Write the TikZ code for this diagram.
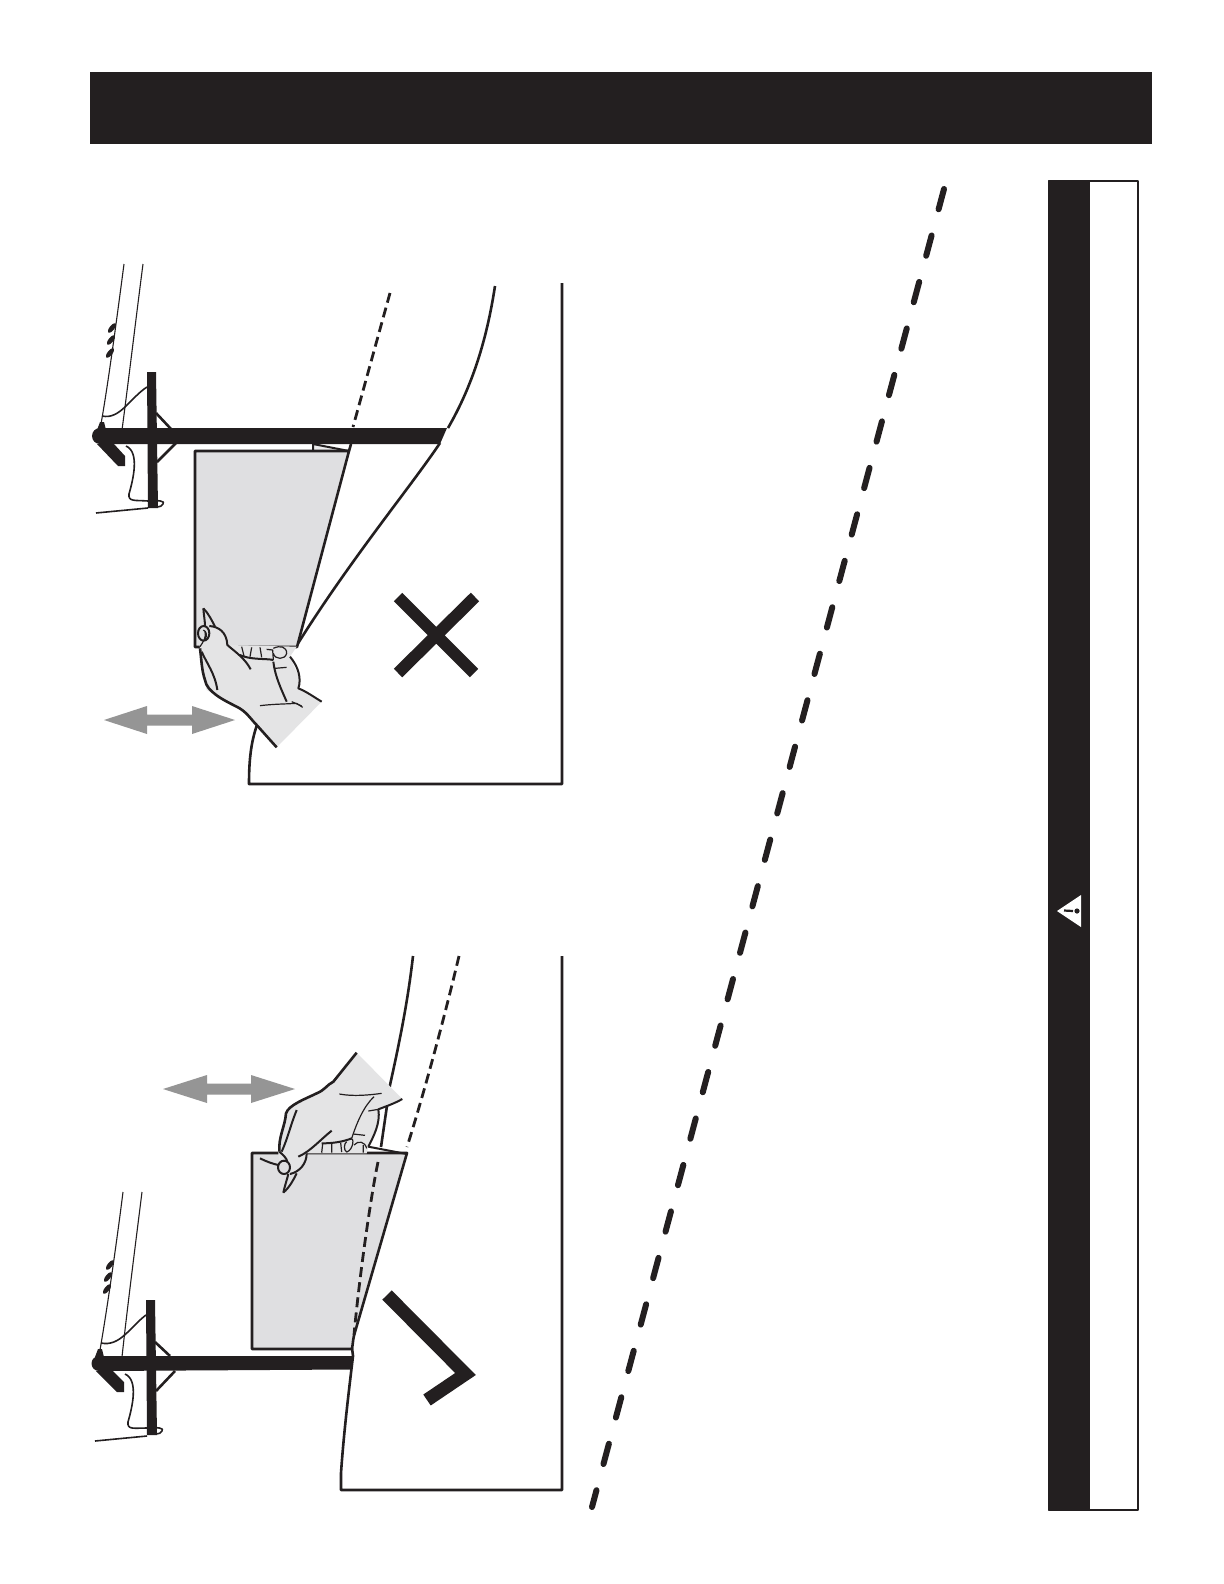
\documentclass[tikz,border=0pt]{standalone}
\definecolor{ink}{HTML}{231F20}
\definecolor{panel}{HTML}{DFDFE1}
\definecolor{arrowgray}{HTML}{959595}
\begin{document}
\begin{tikzpicture}[x=0.5pt,y=-0.5pt,line join=round,
  edge/.style={draw=ink,line width=1.3pt},
  thin edge/.style={draw=ink,line width=1pt},
  fine/.style={draw=ink,line width=0.6pt},
  wire/.style={draw=ink,line width=0.55pt},
  cable/.style={draw=ink,line width=0.8pt},
  dashline/.style={draw=ink,line width=1.4pt,dash pattern=on 5pt off 2.6pt},
  paneltone/.style={fill=panel},
  zoomA/.style={shift={(90,590)},x=0.16667pt,y=-0.16667pt},
  zoomB/.style={shift={(150,1030)},x=0.16667pt,y=-0.16667pt}]
\useasboundingbox (0,0) rectangle (1224,1584);
\fill[white] (0,0) rectangle (1224,1584);
% header
\fill[ink] (90,72) rectangle (1152,144);
% side band
\fill[ink] (1048.5,181) rectangle (1090,1510);
\draw[ink,line width=0.9pt] (1048.5,181) rectangle (1138,1510);
\fill[white] (1057,911) -- (1081,895) -- (1081,927) -- cycle;
\draw[ink,line width=1.1pt] (1064,910.5) -- (1073,911);
\fill[ink] (1077,911) circle (2.6);
% long dashed
\draw[ink,line width=3pt,line cap=round,dash pattern=on 10.5pt off 13.55pt] (944,189) -- (592,1507);

% ---------- upper figure
\draw[edge] (495,286) .. controls (486,345) and (470,390) .. (448,428);
\draw[edge] (440,443) .. controls (412,485) and (350,560) .. (297,645);
\draw[edge] (562,283) -- (562,784) -- (249,784) .. controls (249,760) and (251,742) .. (257,725);
\draw[dashline] (390,293) -- (353,427);
% panel
\fill[panel!60!white] (313,444) -- (349,451) -- (313,451) -- cycle;
\draw[thin edge] (313,451) -- (313,444) -- (349,451);
\filldraw[paneltone,edge] (195,451) -- (349,451) -- (297,647) -- (195,647) -- cycle;
\draw[edge] (349,451) -- (351,444);
% rod, pole
\fill[ink] (100,428) -- (447,428) -- (440,444) -- (100,444) -- cycle;
\fill[ink] (100,436) circle (8);
\fill[ink] (147,372) -- (156,372) -- (158,508) -- (148,508) -- cycle;
\fill[ink] (97,444) -- (118,466) -- (125,466) -- (125,456) -- (114,444) -- cycle;
\draw[ink,line width=1.3pt] (156,413) -- (171,429) (157,462) -- (176,443);
\draw[wire] (124,264) .. controls (118,310) and (108,385) .. (101,424);
\draw[wire] (143,264) .. controls (137,310) and (128,385) .. (122,430);
\draw[cable] (102,416) .. controls (120,420) and (130,398) .. (147,387);
\draw[cable] (126,446) .. controls (140,452) and (133,480) .. (129,494) .. controls (128,502) and (135,500) .. (148,501) .. controls (158,500) and (166,501) .. (163,504) .. controls (162,506) and (160,507) .. (157,507);
\draw[cable] (96,513) -- (148,508);
\foreach \a/\b in {112/328,111/340,110/353}
  \fill[ink] (\a,\b) ellipse[x radius=6,y radius=2.4,rotate=52];
\fill[ink] (100,422) -- (104,422) -- (106,430) -- (97,430) -- cycle;
% X
\draw[ink,line width=6pt] (398,597) -- (474,673) (475,597) -- (398,673);
% arrow
\fill[arrowgray] (104,720) -- (147,706) -- (147,714.5) -- (192,714.5) -- (192,706) -- (235,720) -- (192,734) -- (192,725.5) -- (147,725.5) -- (147,734) -- cycle;
% hand upper
\begin{scope}[zoomA]
\fill[panel!85!white] (695,335) -- (560,472) -- (500,405) -- (470,370) -- (440,350) -- (350,300) -- (335,240) -- (330,175) -- (325,130) -- (358,108) -- (395,120) -- (415,165) -- (620,170) -- (600,200) -- (628,265) -- (625,295) -- cycle;
\draw[thin edge] (695,335) .. controls (670,320) and (650,305) .. (625,295) .. controls (635,265) and (625,230) .. (600,200);
\draw[edge] (330,175) .. controls (335,215) and (335,240) .. (345,270) .. controls (350,305) and (400,330) .. (440,350) .. controls (470,365) and (480,385) .. (500,405) -- (560,472);
\draw[thin edge] (340,55) .. controls (342,80) and (345,95) .. (345,108);
\draw[thin edge] (340,55) .. controls (355,70) and (365,90) .. (375,110);
\draw[thin edge] (358,108) .. controls (385,110) and (410,125) .. (412,165) .. controls (435,185) and (465,205) .. (482,238);
\draw[thin edge,fill=panel] (341,130) ellipse[x radius=17,y radius=22];
\draw[fine] (340,120) .. controls (350,125) and (352,135) .. (345,150) (330,170) .. controls (340,155) and (350,140) .. (345,125);
\draw[thin edge] (335,185) .. controls (350,220) and (375,250) .. (382,300);
\draw[fine] (455,170) -- (462,198) (485,172) -- (480,200) (510,172) -- (515,202) (530,178) -- (548,180) -- (550,210) (550,175) .. controls (570,165) and (590,170) .. (590,190) .. controls (585,210) and (555,210) .. (550,190);
\draw[thin edge] (450,195) .. controls (480,210) and (530,205) .. (550,210);
\draw[thin edge] (550,215) .. controls (555,260) and (575,300) .. (590,335);
\draw[fine] (555,235) -- (590,232);
\draw[fine] (510,347) .. controls (550,342) and (590,342) .. (620,340) -- (638,352);
\draw[fine] (605,335) -- (635,348);
\end{scope}

% ---------- lower figure
\draw[edge] (413,956) .. controls (408,1000) and (400,1040) .. (390,1085) -- (381,1147);
\draw[edge] (562,956) -- (562,1490) -- (341,1490) -- (341,1473) .. controls (344,1430) and (349,1390) .. (353,1356) -- (352,1348);
\filldraw[paneltone,edge] (252,1153) -- (407,1153) -- (373,1270) -- (355,1332) .. controls (353,1338) and (353,1343) .. (352,1349) -- (252,1349) -- cycle;
\draw[dashline] (459,956) .. controls (445,1015) and (425,1090) .. (407,1147) (378,1162) .. controls (372,1190) and (360,1270) .. (354,1335);
% rod, pole
\fill[ink] (99,1356) -- (353,1356) -- (351,1369.5) -- (99,1371) -- cycle;
\fill[ink] (99,1363.5) circle (7.5);
\fill[ink] (146,1300) -- (155,1300) -- (157,1435) -- (147,1435) -- cycle;
\fill[ink] (96,1371) -- (117,1392) -- (124,1392) -- (124,1382) -- (113,1371) -- cycle;
\draw[ink,line width=1.3pt] (155,1342) -- (170,1356) (156,1391) -- (175,1371);
\draw[wire] (123,1192) .. controls (117,1240) and (107,1310) .. (100,1350);
\draw[wire] (142,1192) .. controls (136,1240) and (127,1310) .. (122,1357);
\draw[cable] (101,1343) .. controls (120,1347) and (130,1327) .. (146,1315);
\draw[cable] (125,1374) .. controls (139,1380) and (132,1408) .. (128,1422) .. controls (127,1430) and (134,1428) .. (147,1428) .. controls (157,1427) and (165,1428) .. (162,1431) .. controls (161,1433) and (159,1434) .. (156,1434);
\draw[cable] (95,1441) -- (147,1436);
\foreach \a/\b in {110/1265,108/1277,107/1289}
  \fill[ink] (\a,\b) ellipse[x radius=6,y radius=2.4,rotate=52];
\fill[ink] (98,1349) -- (102,1349) -- (104,1357) -- (95,1357) -- cycle;
% check
\draw[ink,line width=6.6pt,miter limit=10,line join=miter] (387,1295) -- (465.5,1374) -- (427,1400);
% arrow
\fill[arrowgray] (163,1089) -- (207,1075) -- (207,1083.5) -- (251,1083.5) -- (251,1075) -- (295,1089) -- (251,1103) -- (251,1094.5) -- (207,1094.5) -- (207,1103) -- cycle;
% hand lower
\begin{scope}[zoomB]
\fill[panel!85!white] (620,68) -- (757,207) -- (690,235) -- (680,300) -- (655,350) -- (650,370) -- (470,370) -- (440,430) -- (390,430) -- (385,370) -- (390,320) -- (410,240) -- (520,180) -- (550,155) -- cycle;
\draw[edge] (620,68) -- (550,155) .. controls (530,165) and (525,180) .. (500,190) .. controls (470,205) and (415,225) .. (408,250) .. controls (405,290) and (385,320) .. (388,365);
\draw[thin edge] (757,207) .. controls (730,222) and (710,228) .. (685,238) .. controls (692,280) and (670,320) .. (655,350);
\draw[thin edge] (655,350) -- (770,372);
\draw[thin edge] (388,365) .. controls (400,375) and (410,385) .. (412,395);
\draw[thin edge] (470,370) .. controls (470,400) and (450,425) .. (420,432);
\draw[thin edge] (305,370) -- (385,370);
\draw[thin edge] (330,385) .. controls (350,395) and (370,402) .. (385,405);
\draw[thin edge] (400,488) .. controls (405,465) and (412,445) .. (415,432);
\draw[thin edge] (400,488) .. controls (420,470) and (430,450) .. (440,430);
\draw[thin edge,fill=panel] (402,412) ellipse[x radius=18,y radius=20];
\draw[thin edge] (440,240) .. controls (420,290) and (415,320) .. (395,365);
\draw[thin edge] (445,380) .. controls (480,365) and (510,330) .. (545,302);
\draw[fine] (518,342) -- (515,368) (545,340) -- (545,368) (572,338) -- (575,366) (600,325) .. controls (615,320) and (610,360) .. (590,366) .. controls (580,360) and (582,340) .. (590,335);
\draw[thin edge] (515,340) .. controls (550,340) and (580,335) .. (605,325);
\draw[fine] (612,345) .. controls (625,330) and (645,335) .. (650,355) (640,345) -- (640,368);
\draw[fine] (605,325) .. controls (620,280) and (640,230) .. (672,200);
\draw[fine] (568,192) .. controls (610,200) and (660,195) .. (695,190);
\draw[fine] (610,312) -- (645,316);
\draw[fine] (655,243) -- (685,238);
\end{scope}
\end{tikzpicture}
\end{document}
